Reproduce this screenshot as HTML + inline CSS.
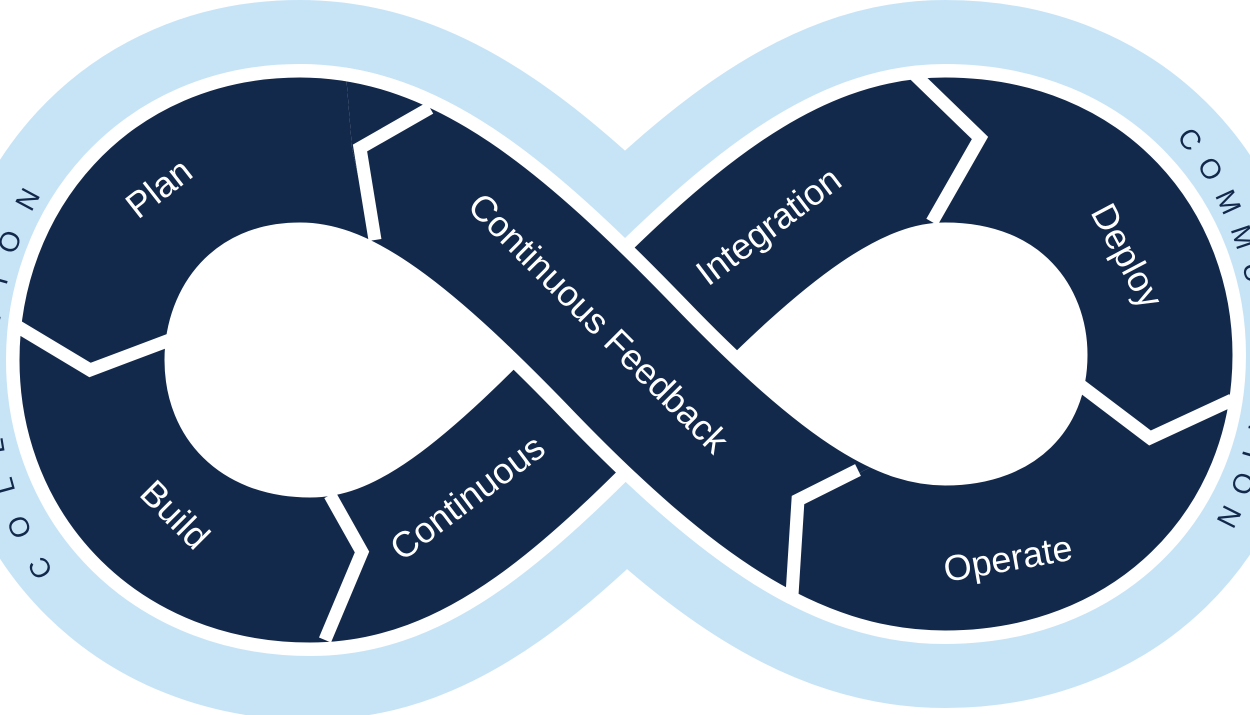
<!DOCTYPE html>
<html><head><meta charset="utf-8"><style>
html,body{margin:0;padding:0;background:#fff;width:1250px;height:715px;overflow:hidden}
svg{display:block}
text{font-family:"Liberation Sans",sans-serif}
</style></head><body>
<svg width="1250" height="715" viewBox="0 0 1250 715" xmlns="http://www.w3.org/2000/svg">
<defs>
<path id="inf" d="M625,360 C760,220 850,150 945,150 C1085,150 1160,250 1160,355 C1160,470 1075,558 945,558 C850,558 760,500 625,360 C490,220 400,150 300,150 C170,150 92,250 92,360 C92,478 180,570 310,570 C410,570 490,500 625,360 Z"/>
<path id="fb" d="M300,150 C400,150 490,220 625,360 C760,500 850,558 945,558"/>
<clipPath id="fbc"><polygon points="340,0 352,148 372,240 330,330 780,720 788,595 800,505 865,470 1000,400 600,0"/></clipPath>
<path id="lt" d="M54,572 A378 378 0 0 1 54,172"/>
<path id="rt" d="M1176,137 A355 355 0 0 1 1201,548"/>
</defs>
<use href="#inf" fill="none" stroke="#c7e4f7" stroke-width="300"/>
<use href="#inf" fill="#ffffff" stroke="none"/>
<use href="#inf" fill="none" stroke="#ffffff" stroke-width="172"/>
<use href="#inf" fill="none" stroke="#13294b" stroke-width="145"/>
<g clip-path="url(#fbc)">
<use href="#fb" fill="none" stroke="#ffffff" stroke-width="172"/>
<use href="#fb" fill="none" stroke="#13294b" stroke-width="145"/>
</g>
<g fill="none" stroke="#fff" stroke-width="13" stroke-linejoin="miter">
<polyline points="15,325 90,370 175,338"/>
<polyline points="330,495 362,552 325,640"/>
<polyline points="430,108 360,148 375,240"/>
<polyline points="915,75 980,138 932,222"/>
<polyline points="1080,385 1150,438 1232,400"/>
<polyline points="858,470 798,500 792,595"/>
</g>
<g fill="#fff" font-size="36">
<text transform="translate(138,220) rotate(-38)">Plan</text>
<text transform="translate(138,495) rotate(45)">Build</text>
<text transform="translate(402,562) rotate(-37)">Continuous</text>
<text transform="translate(466,208) rotate(45)">Continuous Feedback</text>
<text transform="translate(708,287) rotate(-37)">Integration</text>
<text transform="translate(1090,212) rotate(62)">Deploy</text>
<text transform="translate(946,582) rotate(-10)">Operate</text>
</g>
<g fill="#13294b" font-size="28">
<text letter-spacing="24"><textPath href="#lt">COLLECTION</textPath></text>
<text letter-spacing="14"><textPath href="#rt">COMMUNICATION</textPath></text>
</g>
</svg>
</body></html>
